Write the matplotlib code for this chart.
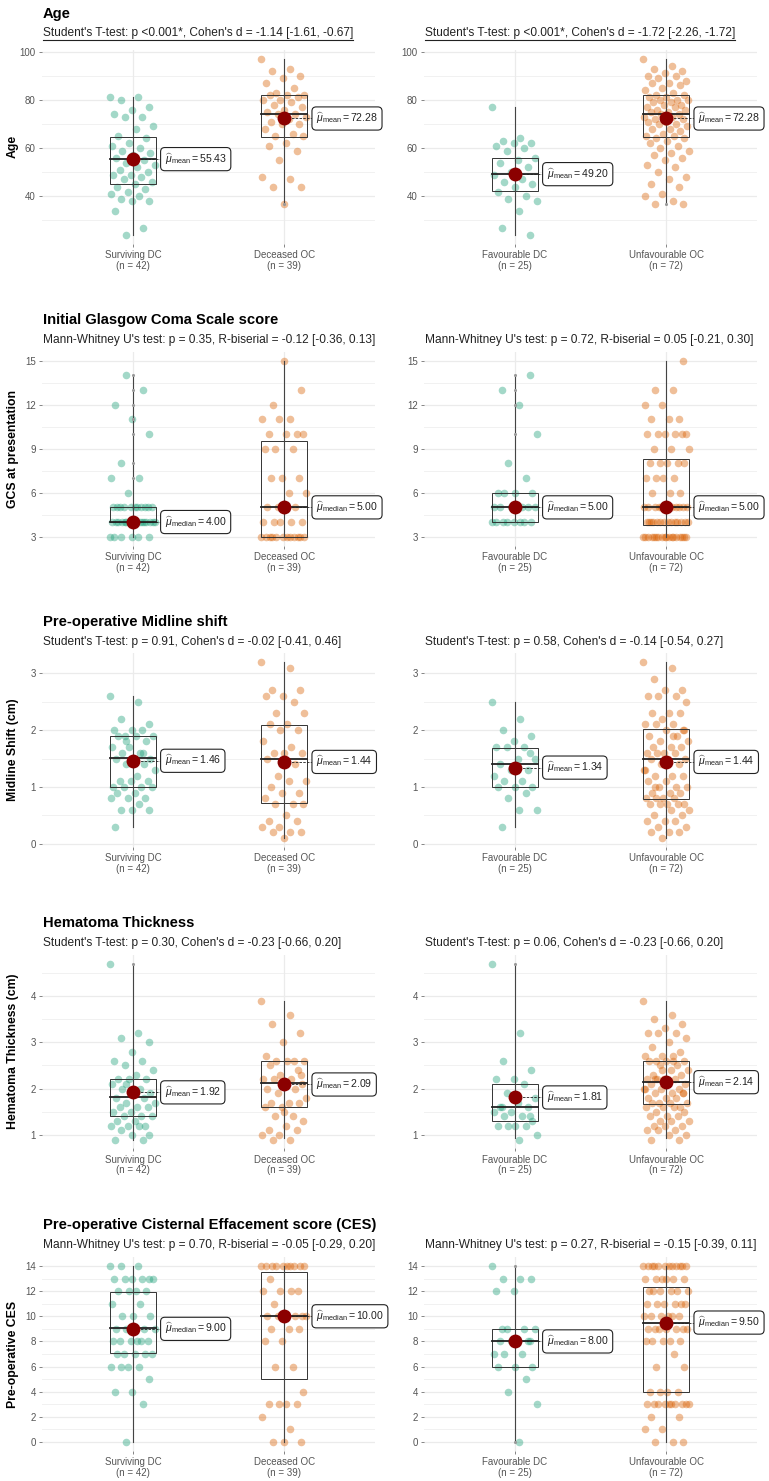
import matplotlib

matplotlib.use("Agg")
import matplotlib.pyplot as plt  # noqa: E402
import numpy as np  # noqa: E402
from matplotlib.lines import Line2D  # noqa: E402
from matplotlib.patches import Rectangle  # noqa: E402

plt.rcParams["font.family"] = ["Liberation Sans", "DejaVu Sans"]
plt.rcParams["mathtext.fontset"] = "custom"
plt.rcParams["mathtext.rm"] = "Liberation Sans"
plt.rcParams["mathtext.it"] = "Liberation Sans:italic"
plt.rcParams["mathtext.bf"] = "Liberation Sans:bold"

# ---- data ---------------------------------------------------------------
groups_left = ["Surviving DC", "Deceased OC"]
groups_right = ["Favourable DC", "Unfavourable OC"]

titles = ["Age", "Initial Glasgow Coma Scale score", "Pre-operative Midline shift",
          "Hematoma Thickness", "Pre-operative Cisternal Effacement score (CES)"]
ylabels = ["Age", "GCS at presentation", "Midline Shift (cm)",
           "Hematoma Thickness (cm)", "Pre-operative CES"]
subtitles = [
    ("Student's T-test: p <0.001*, Cohen's d = -1.14 [-1.61, -0.67]",
     "Student's T-test: p <0.001*, Cohen's d = -1.72 [-2.26, -1.72]"),
    ("Mann-Whitney U's test: p = 0.35, R-biserial = -0.12 [-0.36, 0.13]",
     "Mann-Whitney U's test: p = 0.72, R-biserial = 0.05 [-0.21, 0.30]"),
    ("Student's T-test: p = 0.91, Cohen's d = -0.02 [-0.41, 0.46]",
     "Student's T-test: p = 0.58, Cohen's d = -0.14 [-0.54, 0.27]"),
    ("Student's T-test: p = 0.30, Cohen's d = -0.23 [-0.66, 0.20]",
     "Student's T-test: p = 0.06, Cohen's d = -0.23 [-0.66, 0.20]"),
    ("Mann-Whitney U's test: p = 0.70, R-biserial = -0.05 [-0.29, 0.20]",
     "Mann-Whitney U's test: p = 0.27, R-biserial = -0.15 [-0.39, 0.11]"),
]
centre_kind = ["mean", "median", "mean", "mean", "median"]

# Age
age_surv = [81, 81, 80, 77, 76, 74, 73, 73, 69, 68, 65, 64, 62, 61, 60, 59, 58, 57, 56, 55, 54,
            53, 52, 51, 50, 49, 49, 48, 47, 46, 45, 44, 43, 42, 41, 40, 39, 38, 38, 34, 27, 24]
age_dec = [97, 93, 92, 90, 89, 87, 85, 83, 82, 82, 82, 81, 80, 80, 79, 78, 77, 76, 75, 74,
           74, 73, 72, 71, 70, 70, 68, 66, 65, 65, 62, 61, 59, 55, 48, 47, 44, 44, 37]
age_fav = [77, 64, 63, 62, 62, 61, 60, 59, 56, 55, 54, 52, 50, 49, 47, 46, 45, 44, 42, 40,
           39, 38, 34, 27, 24]
age_unfav = [97, 94, 93, 92, 91, 90, 90, 89, 88, 87, 87, 86, 85, 84, 83, 82, 82, 81, 81, 80,
             80, 80, 79, 79, 78, 78, 77, 77, 76, 76, 75, 75, 74, 74, 73, 73, 72, 72, 71, 71,
             70, 70, 69, 68, 68, 67, 66, 65, 65, 64, 64, 63, 62, 61, 60, 59, 58, 57, 56, 55,
             53, 52, 50, 48, 47, 45, 44, 41, 40, 38, 37, 37]
age_box = [[45.1, 55.4, 64.8, 24, 81], [64.8, 74.2, 82.0, 37, 97],
           [42.3, 49.4, 56.1, 24, 77], [64.8, 74.2, 82.0, 37, 97]]
age_centre = [55.43, 72.28, 49.20, 72.28]
age_out = [[], [37], [], [37]]

# GCS
gcs_surv = [3, 3, 3, 3, 3, 3, 4, 4, 4, 4, 4, 4, 4, 4, 4, 4, 4, 4, 4, 4, 4, 4,
            5, 5, 5, 5, 5, 5, 5, 5, 5, 5, 5, 6, 7, 7, 8, 10, 11, 12, 13, 14]
gcs_dec = [3, 3, 3, 3, 3, 3, 3, 3, 3, 3, 3, 3, 4, 4, 4, 4, 4, 5, 5, 5, 5,
           6, 6, 7, 7, 7, 9, 9, 9, 10, 10, 10, 10, 11, 11, 11, 12, 13, 15]
gcs_fav = [4, 4, 4, 4, 4, 4, 4, 4, 5, 5, 5, 5, 5, 5, 5, 6, 6, 6, 6, 7, 8, 10, 12, 13, 14]
gcs_unfav = [3, 3, 3, 3, 3, 3, 3, 3, 3, 3, 3, 3, 3, 3, 3, 3, 3, 3,
             4, 4, 4, 4, 4, 4, 4, 4, 4, 4, 4, 4, 4, 4,
             5, 5, 5, 5, 5, 5, 5, 5, 5, 5, 5,
             6, 6, 6, 7, 7, 7, 7, 8, 8, 8, 8, 8, 9, 9, 9,
             10, 10, 10, 10, 10, 10, 11, 11, 11, 12, 12, 13, 13, 15]
gcs_box = [[4, 4, 5, 3, 14], [3, 5, 9.5, 3, 15], [4, 5, 6, 4, 14], [3.8, 5, 8.3, 3, 15]]
gcs_centre = [4.00, 5.00, 5.00, 5.00]
gcs_out = [[7, 8, 10, 11, 12, 13, 14], [], [10, 12, 13, 14], []]

# Midline shift
mls_surv = [2.6, 2.5, 2.2, 2.1, 2.0, 2.0, 2.0, 1.9, 1.9, 1.9, 1.9, 1.8, 1.7, 1.7, 1.6, 1.6,
            1.5, 1.5, 1.5, 1.4, 1.4, 1.3, 1.2, 1.1, 1.1, 1.1, 1.0, 1.0, 1.0, 1.0, 0.9, 0.9,
            0.8, 0.8, 0.8, 0.7, 0.6, 0.6, 0.6, 0.3, 1.6, 1.8]
mls_dec = [3.2, 3.1, 2.7, 2.7, 2.6, 2.6, 2.5, 2.3, 2.3, 2.1, 2.1, 2.0, 2.0, 1.8, 1.7, 1.6,
           1.6, 1.6, 1.5, 1.4, 1.2, 1.1, 1.1, 1.0, 0.9, 0.9, 0.8, 0.7, 0.7, 0.7, 0.5, 0.4,
           0.4, 0.3, 0.3, 0.2, 0.2, 0.2, 0.1]
mls_fav = [2.5, 2.2, 2.0, 1.9, 1.8, 1.7, 1.7, 1.7, 1.5, 1.5, 1.4, 1.3, 1.3, 1.2, 1.1, 1.1,
           1.0, 1.0, 1.0, 0.9, 0.8, 0.6, 0.6, 0.3, 1.6]
mls_unfav = [3.2, 3.1, 2.9, 2.7, 2.7, 2.6, 2.6, 2.6, 2.5, 2.3, 2.3, 2.3, 2.2, 2.1, 2.1,
             2.1, 2.0, 2.0, 1.9, 1.9, 1.8, 1.8, 1.7, 1.7, 1.7, 1.6, 1.6, 1.6, 1.6, 1.5,
             1.5, 1.5, 1.4, 1.4, 1.3, 1.2, 1.2, 1.2, 1.1, 1.1, 1.0, 1.0, 1.0, 0.9, 0.9,
             0.9, 0.8, 0.8, 0.8, 0.8, 0.7, 0.7, 0.7, 0.7, 0.7, 0.6, 0.6, 0.5, 0.5, 0.4,
             0.4, 0.4, 0.3, 0.3, 0.2, 0.2, 0.2, 0.1, 1.3, 1.9, 1.0, 2.0]
mls_box = [[1.0, 1.51, 1.9, 0.3, 2.6], [0.71, 1.5, 2.09, 0.1, 3.2],
           [1.0, 1.4, 1.69, 0.3, 2.5], [0.79, 1.5, 2.02, 0.1, 3.2]]
mls_centre = [1.46, 1.44, 1.34, 1.44]
mls_out = [[], [], [], []]

# Hematoma thickness
ht_surv = [4.7, 3.2, 3.1, 3.0, 2.8, 2.6, 2.6, 2.5, 2.4, 2.3, 2.2, 2.2, 2.2, 2.1, 2.0, 2.0,
           1.9, 1.9, 1.8, 1.8, 1.7, 1.7, 1.6, 1.6, 1.6, 1.5, 1.5, 1.4, 1.4, 1.4, 1.3, 1.3,
           1.2, 1.2, 1.2, 1.2, 1.1, 1.0, 1.0, 0.9, 0.9, 2.1]
ht_dec = [3.9, 3.6, 3.4, 3.2, 3.0, 2.7, 2.6, 2.6, 2.6, 2.6, 2.5, 2.4, 2.3, 2.2, 2.2, 2.2,
          2.1, 2.1, 2.0, 2.0, 1.9, 1.8, 1.7, 1.7, 1.7, 1.6, 1.6, 1.4, 1.4, 1.3, 1.2, 1.1,
          1.1, 1.0, 1.0, 0.9, 0.9, 2.3, 1.5]
ht_fav = [4.7, 3.2, 2.6, 2.4, 2.2, 2.2, 2.1, 1.9, 1.8, 1.7, 1.6, 1.6, 1.5, 1.5, 1.4, 1.4,
          1.3, 1.2, 1.2, 1.2, 1.2, 1.0, 0.9, 1.6, 1.4]
ht_unfav = [3.9, 3.6, 3.5, 3.4, 3.3, 3.2, 3.2, 3.2, 3.1, 3.0, 2.9, 2.8, 2.7, 2.7, 2.7,
            2.6, 2.6, 2.6, 2.6, 2.5, 2.5, 2.4, 2.4, 2.3, 2.3, 2.2, 2.2, 2.2, 2.2, 2.1,
            2.1, 2.1, 2.0, 2.0, 2.0, 1.9, 1.9, 1.9, 1.8, 1.8, 1.8, 1.7, 1.7, 1.7, 1.7,
            1.6, 1.6, 1.6, 1.6, 1.5, 1.5, 1.4, 1.4, 1.4, 1.3, 1.3, 1.3, 1.2, 1.2, 1.2,
            1.1, 1.1, 1.1, 1.0, 1.0, 0.9, 0.9, 2.4, 2.0, 2.6, 2.2, 1.9]
ht_box = [[1.4, 1.81, 2.2, 0.9, 4.7], [1.6, 2.12, 2.6, 0.93, 3.9],
          [1.3, 1.61, 2.1, 0.93, 4.7], [1.66, 2.15, 2.6, 0.93, 3.9]]
ht_centre = [1.92, 2.09, 1.81, 2.14]
ht_out = [[4.7], [], [4.7], []]

# Cisternal effacement score
ces_surv = [14, 14, 14, 13, 13, 13, 13, 13, 13, 12, 12, 12, 12, 11, 11, 10, 10, 10, 9, 9, 9, 9,
            8, 8, 8, 8, 8, 8, 7, 7, 7, 7, 7, 6, 6, 6, 6, 5, 4, 4, 3, 0]
ces_dec = [14, 14, 14, 14, 14, 14, 14, 14, 14, 14, 13, 12, 12, 12, 12, 11, 10, 10, 10, 10,
           10, 10, 9, 9, 9, 8, 8, 6, 6, 4, 3, 3, 3, 3, 2, 1, 0, 0, 0]
ces_fav = [14, 13, 13, 13, 12, 12, 9, 9, 9, 8, 8, 8, 8, 7, 7, 7, 6, 6, 6, 5, 4, 3, 0, 9, 8]
ces_unfav = [14, 14, 14, 14, 14, 14, 14, 14, 14, 14, 14, 14, 13, 13, 13, 13, 13, 13,
             12, 12, 12, 12, 12, 12, 11, 11, 11, 11, 11, 11, 10, 10, 10, 10, 10, 10,
             9, 9, 9, 9, 9, 9, 9, 8, 8, 8, 8, 8, 7, 6, 6, 4, 4, 4, 4,
             3, 3, 3, 3, 3, 3, 3, 3, 3, 3, 2, 2, 1, 1, 0, 0, 0]
ces_box = [[7.05, 9.04, 11.96, 0, 14], [4.99, 10.05, 13.55, 0, 14],
           [6, 8, 9, 0, 14], [4, 9.5, 12.3, 0, 14]]
ces_centre = [9.00, 10.00, 8.00, 9.50]
ces_out = [[], [], [0, 14], []]

# ---- layout ----------------------------------------------------------------
W, H = 769, 1481
GREEN, ORANGE = "#1B9E77", "#D95F02"
PANEL_X = [42, 424]
PANEL_W = 333
PANEL_TOP = [50.1, 351.9, 653.2, 954.8, 1257.2]
PANEL_H = 193.6
TITLE_Y = [14, 320, 621.7, 923.3, 1225]
SUB_Y = [33, 340, 641.7, 943.3, 1245]
YLIMS = [(20.35, 100.65), (2.4, 15.6), (-0.055, 3.355), (0.71, 4.89), (-0.7, 14.7)]
MAJOR = [[40, 60, 80, 100], [3, 6, 9, 12, 15], [0, 1, 2, 3], [1, 2, 3, 4], list(range(0, 15, 2))]
MINOR = [[30, 50, 70, 90], [4.5, 7.5, 10.5, 13.5], [0.5, 1.5, 2.5], [1.5, 2.5, 3.5, 4.5],
         list(range(1, 14, 2))]

rows = [
    ((age_surv, age_dec), (age_fav, age_unfav), age_box, age_centre, age_out),
    ((gcs_surv, gcs_dec), (gcs_fav, gcs_unfav), gcs_box, gcs_centre, gcs_out),
    ((mls_surv, mls_dec), (mls_fav, mls_unfav), mls_box, mls_centre, mls_out),
    ((ht_surv, ht_dec), (ht_fav, ht_unfav), ht_box, ht_centre, ht_out),
    ((ces_surv, ces_dec), (ces_fav, ces_unfav), ces_box, ces_centre, ces_out),
]


def fx(px):
    return px / W


def fy(py):
    return 1 - py / H


def draw_panel(ax, pair, names, boxes, centres, outs, kind, r):
    ax.set_xlim(0.4, 2.6)
    ax.set_ylim(*YLIMS[r])
    for t in MAJOR[r]:
        ax.axhline(t, color="#EBEBEB", lw=0.9, zorder=0)
    for t in MINOR[r]:
        ax.axhline(t, color="#F1F1F1", lw=0.7, zorder=0)
    for k, vals in enumerate(pair):
        x0 = k + 1
        ax.axvline(x0, color="#EBEBEB", lw=0.9, zorder=0)
        vals = np.asarray(vals, dtype=float)
        jit = ((np.arange(len(vals)) * 0.618034) % 1 - 0.5) * 0.3
        ax.scatter(x0 + jit, vals, s=30, color=(GREEN, ORANGE)[k], alpha=0.4, lw=0, zorder=2)
        q1, med, q3, lo, hi = boxes[k]
        ax.add_patch(Rectangle((x0 - 0.15, q1), 0.3, q3 - q1, fill=False,
                               ec="#333333", lw=0.7, zorder=3))
        ax.plot([x0 - 0.15, x0 + 0.15], [med, med], color="#222222", lw=1.3, zorder=3)
        ax.plot([x0, x0], [lo, hi], color="#444444", lw=0.8, zorder=3)
        if outs[k]:
            ax.scatter([x0] * len(outs[k]), outs[k], s=5, color="#9A9A9A", lw=0, zorder=3)
        c = centres[k]
        ax.plot([x0, x0 + 0.19], [c, c], ls=(0, (3, 1.5)), color="#222222", lw=0.6, zorder=3)
        ax.scatter([x0], [c], s=100, color="#8B0000", lw=0, zorder=4)
        ax.text(x0 + 0.21, c, rf"$\widehat{{\mu}}_{{\mathrm{{{kind}}}}}={c:.2f}$",
                ha="left", va="center", fontsize=7.6, color="#222222", zorder=5,
                bbox=dict(boxstyle="round,pad=0.38,rounding_size=0.4", fc="white",
                          ec="#222222", lw=0.8))
    ax.set_xticks([1, 2])
    ax.set_xticklabels([f"{n}\n(n = {len(v)})" for n, v in zip(names, pair)],
                       linespacing=1.1)
    ax.set_yticks(MAJOR[r])
    ax.tick_params(axis="both", labelsize=7, labelcolor="#555555", color="#555555",
                   length=2.5, width=0.5, pad=2)
    for s in ax.spines.values():
        s.set_visible(False)


fig = plt.figure(figsize=(W / 100, H / 100), dpi=100)
underline = []
for r, (left, right, boxes, centres, outs) in enumerate(rows):
    y0 = fy(PANEL_TOP[r] + PANEL_H)
    for c, (pair, names) in enumerate(((left, groups_left), (right, groups_right))):
        ax = fig.add_axes([fx(PANEL_X[c]), y0, PANEL_W / W, PANEL_H / H])
        draw_panel(ax, pair, names, boxes[2 * c:2 * c + 2], centres[2 * c:2 * c + 2],
                   outs[2 * c:2 * c + 2], centre_kind[r], r)
        t = fig.text(fx(PANEL_X[c] + 1), fy(SUB_Y[r]), subtitles[r][c], fontsize=8.6,
                     color="#222222", ha="left", va="center")
        if r == 0:
            underline.append(t)
    fig.text(fx(PANEL_X[0] + 1), fy(TITLE_Y[r]), titles[r], fontsize=10.6,
             fontweight="bold", ha="left", va="center")
    fig.text(fx(13), fy(PANEL_TOP[r] + PANEL_H / 2), ylabels[r], fontsize=8.8,
             fontweight="bold", rotation=90, ha="center", va="center")

fig.canvas.draw()
inv = fig.transFigure.inverted()
for t in underline:
    bb = t.get_window_extent()
    (a, b), (c2, _) = inv.transform([(bb.x0, bb.y0 - 0.5), (bb.x1, bb.y0)])
    fig.add_artist(Line2D([a, c2], [b, b], transform=fig.transFigure, color="#222222", lw=0.8))

fig.savefig("out.png", dpi=100)
plt.close(fig)
